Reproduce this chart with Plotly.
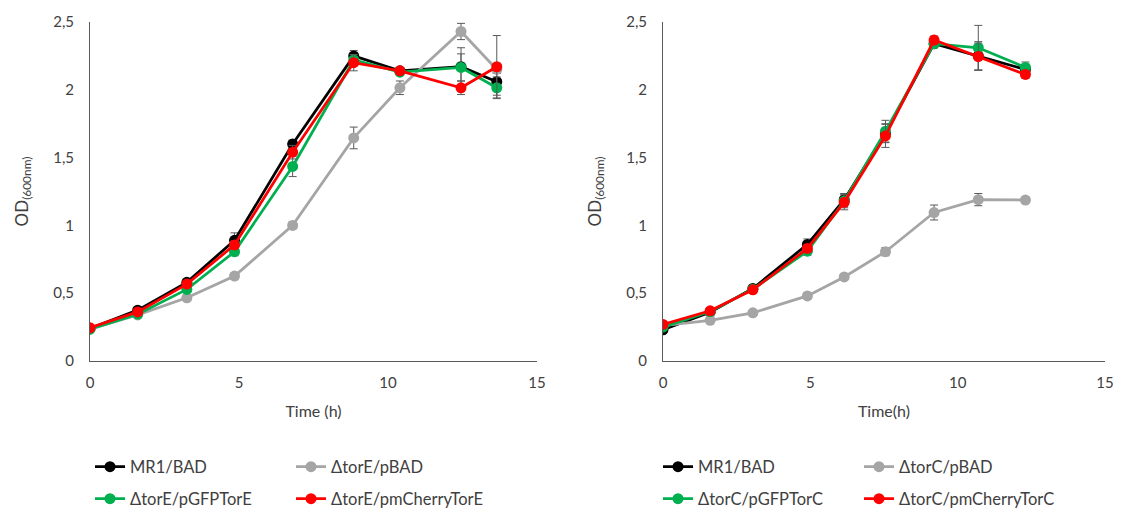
import plotly.graph_objects as go

# ---------------- data ----------------
# Left panel (torE)
time_E = [0, 1.6, 3.25, 4.85, 6.8, 8.85, 10.4, 12.45, 13.65]
mr1_E = [0.24, 0.375, 0.58, 0.89, 1.60, 2.25, 2.14, 2.17, 2.06]
mr1_E_err = [0.01, 0.015, 0.02, 0.055, 0.03, 0.04, 0.02, 0.14, 0.10]
pbad_E = [0.235, 0.34, 0.466, 0.626, 1.00, 1.645, 2.015, 2.43, 2.15]
pbad_E_err = [0.01, 0.01, 0.015, 0.02, 0.025, 0.08, 0.05, 0.06, 0.03]
gfp_E = [0.235, 0.345, 0.528, 0.806, 1.435, 2.22, 2.13, 2.165, 2.015]
gfp_E_err = [0.01, 0.015, 0.02, 0.03, 0.075, 0.04, 0.02, 0.10, 0.08]
cherry_E = [0.245, 0.362, 0.567, 0.856, 1.54, 2.20, 2.14, 2.015, 2.17]
cherry_E_err = [0.01, 0.015, 0.02, 0.03, 0.05, 0.06, 0.02, 0.05, 0.23]

# Right panel (torC)
time_C = [0, 1.6, 3.05, 4.9, 6.15, 7.55, 9.2, 10.7, 12.3]
mr1_C = [0.23, 0.36, 0.535, 0.86, 1.19, 1.68, 2.34, 2.25, 2.15]
mr1_C_err = [0.01, 0.015, 0.02, 0.04, 0.045, 0.07, 0.03, 0.105, 0.03]
pbad_C = [0.26, 0.30, 0.355, 0.48, 0.62, 0.806, 1.095, 1.19, 1.187]
pbad_C_err = [0.01, 0.01, 0.015, 0.02, 0.02, 0.03, 0.055, 0.045, 0.02]
gfp_C = [0.25, 0.365, 0.53, 0.81, 1.18, 1.695, 2.34, 2.31, 2.165]
gfp_C_err = [0.01, 0.015, 0.02, 0.03, 0.05, 0.08, 0.03, 0.165, 0.04]
cherry_C = [0.27, 0.37, 0.525, 0.83, 1.17, 1.66, 2.367, 2.245, 2.113]
cherry_C_err = [0.01, 0.015, 0.02, 0.03, 0.055, 0.085, 0.03, 0.10, 0.03]

names_E = ["MR1/BAD", "ΔtorE/pBAD", "ΔtorE/pGFPTorE", "ΔtorE/pmCherryTorE"]
names_C = ["MR1/BAD", "ΔtorC/pBAD", "ΔtorC/pGFPTorC", "ΔtorC/pmCherryTorC"]
colors = ["#000000", "#A5A5A5", "#00B050", "#FF0000"]

y_tickvals = [0, 0.5, 1, 1.5, 2, 2.5]
y_ticktext = ["0", "0,5", "1", "1,5", "2", "2,5"]
x_tickvals = [0, 5, 10, 15]
x_ticktext = ["0", "5", "10", "15"]

FONT = "Lato"
TXT = "#404040"

fig = go.Figure()

series_E = [(mr1_E, mr1_E_err), (pbad_E, pbad_E_err), (gfp_E, gfp_E_err), (cherry_E, cherry_E_err)]
series_C = [(mr1_C, mr1_C_err), (pbad_C, pbad_C_err), (gfp_C, gfp_C_err), (cherry_C, cherry_C_err)]
legend_ids_E = ["legend", "legend", "legend2", "legend2"]
legend_ids_C = ["legend3", "legend3", "legend4", "legend4"]

for i, (vals, err) in enumerate(series_E):
    fig.add_trace(go.Scatter(
        x=time_E, y=vals, name=names_E[i], mode="lines+markers",
        line=dict(color=colors[i], width=2.75),
        marker=dict(color=colors[i], size=11),
        error_y=dict(type="data", array=err, color="#595959", thickness=1, width=4),
        xaxis="x", yaxis="y", legend=legend_ids_E[i],
    ))

for i, (vals, err) in enumerate(series_C):
    fig.add_trace(go.Scatter(
        x=time_C, y=vals, name=names_C[i], mode="lines+markers",
        line=dict(color=colors[i], width=2.75),
        marker=dict(color=colors[i], size=11),
        error_y=dict(type="data", array=err, color="#595959", thickness=1, width=4),
        xaxis="x2", yaxis="y2", legend=legend_ids_C[i],
    ))

W, H = 1126, 514
def fx(px):
    return px / W
def fy(py):
    return (H - py) / H

xax = dict(range=[0, 15], tickvals=x_tickvals, ticktext=x_ticktext,
           showline=True, linecolor="#595959", linewidth=1, showgrid=False,
           zeroline=False, ticks="", ticklabelstandoff=8, automargin=False,
           tickfont=dict(family=FONT, size=15, color=TXT),
           title=dict(font=dict(family=FONT, size=16, color=TXT), standoff=15))
yax = dict(range=[0, 2.5], tickvals=y_tickvals, ticktext=y_ticktext,
           showline=True, linecolor="#595959", linewidth=1, showgrid=False,
           zeroline=False, ticks="", ticklabelstandoff=12, automargin=False,
           tickfont=dict(family=FONT, size=15, color=TXT),
           title=dict(text="OD<sub>(600nm)</sub>", font=dict(family=FONT, size=17, color=TXT), standoff=20),
           domain=[fy(361), fy(22)])

fig.update_layout(
    width=W, height=H,
    margin=dict(l=0, r=0, t=0, b=0, autoexpand=False),
    paper_bgcolor="white", plot_bgcolor="white",
    font=dict(family=FONT, color=TXT),
    xaxis={**xax, "domain": [fx(90), fx(537)], "anchor": "y",
           "title": {**xax["title"], "text": "Time (h)"}},
    yaxis={**yax, "anchor": "x"},
    xaxis2={**xax, "domain": [fx(663), fx(1105)], "anchor": "y2",
            "title": {**xax["title"], "text": "Time(h)"}},
    yaxis2={**yax, "anchor": "x2"},
    showlegend=True,
)

leg_common = dict(orientation="h", xanchor="left", yanchor="middle",
                  font=dict(family=FONT, size=16.5, color=TXT),
                  entrywidth=156, entrywidthmode="pixels",
                  bgcolor="rgba(0,0,0,0)", itemclick=False, itemdoubleclick=False)
fig.update_layout(
    legend={**leg_common, "x": fx(90), "y": fy(467)},
    legend2={**leg_common, "x": fx(90), "y": fy(499)},
    legend3={**leg_common, "x": fx(658), "y": fy(467)},
    legend4={**leg_common, "x": fx(658), "y": fy(499)},
)

fig.write_html(
    "out.html",
    config={"displayModeBar": False},
    post_script="document.body.style.margin='0';document.body.style.overflow='hidden';",
)
